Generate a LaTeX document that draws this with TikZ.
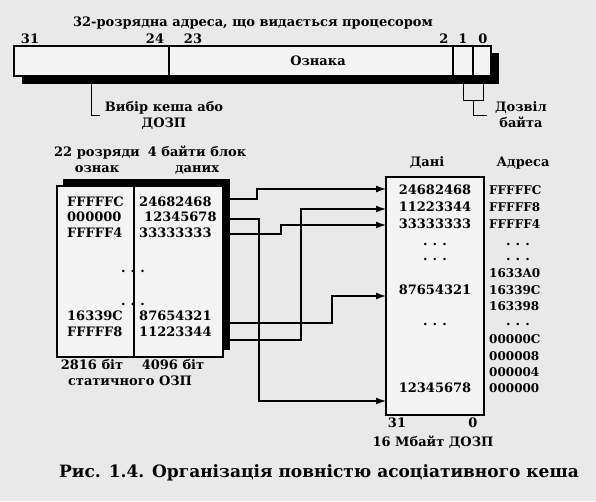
\documentclass[tikz,border=0pt]{standalone}
\usepackage{fontspec}
\setmainfont{DejaVu Serif}
\usetikzlibrary{arrows.meta}
\definecolor{paper}{RGB}{233,233,233}
\definecolor{sheet}{RGB}{244,244,244}
\newcommand\spacedots{.\hspace{5pt}.\hspace{5pt}.}
\begin{document}
\begin{tikzpicture}[x=1pt,y=-1pt,
   lbl/.style={font=\bfseries\fontsize{13}{16}\selectfont, inner sep=0pt},
   addr/.style={font=\bfseries\fontsize{12}{16}\selectfont, inner sep=0pt, anchor=west},
   figcap/.style={font=\bfseries\fontsize{17}{20}\selectfont, inner sep=0pt},
   frame/.style={draw, line width=1.3pt, fill=sheet},
   wire/.style={line width=1.1pt, -{Latex[length=10pt,width=7pt]}},
   lead/.style={line width=1pt}]
   \fill[paper] (0,0) rectangle (596,501);

   % address from the processor
   \node[lbl] (title) at (253,23) {32-розрядна адреса, що видається процесором};
   \fill (22,53) rectangle (499,84);
   \draw[frame] (14,46) rectangle (491,76);
   \draw[line width=1.3pt] (169,46) -- (169,76) (453,46) -- (453,76) (473,46) -- (473,76);
   \foreach \b/\x in {31/30, 24/155, 23/193, 2/444, 1/463, 0/483}
      \node[lbl] (bit\b) at (\x,39) {\b};
   \node[lbl] (tag) at (318,61) {Ознака};

   \node[lbl, align=center] (sel) at (164,115) {Вибір кеша або\\ДОЗП};
   \coordinate (selTop) at (91,84);
   \draw[lead] (selTop) |- ([xshift=-5pt]sel.west);

   \node[lbl, align=center] (byte) at (521,115) {Дозвіл\\байта};
   \coordinate (b1) at (463,84);
   \coordinate (b0) at (483,84);
   \draw[lead] (b1) -- (463,100) -- (483,100) -- (b0);
   \draw[lead] (473,100) |- ([xshift=-8pt]byte.west);

   % cache
   \node[lbl, align=center] (tagHead) at (97,160) {22 розряди\\ознак};
   \node[lbl, align=center] (dataHead) at (197,160) {4 байти блок\\даних};
   \fill (63,179) rectangle (230,350);
   \draw[frame] (57,186) rectangle (223,357);
   \draw[line width=1.3pt] (134,186) -- (134,357);
   \foreach \t/\d/\y in {FFFFFC/24682468/202, FFFFF4/33333333/233, 16339C/87654321/316, FFFFF8/11223344/332}{
      \node[lbl, anchor=west] (ct\y) at (67,\y) {\t};
      \node[lbl, anchor=west] (cd\y) at (139,\y) {\d};
   }
   \node[lbl, anchor=west] (ct217) at (67,217) {000000};
   \node[lbl, anchor=west] (cd217) at (144,217) {12345678};
   \node[lbl, anchor=base] (cdots1) at (133,272) {\spacedots};
   \node[lbl, anchor=base] (cdots2) at (133,305) {\spacedots};
   \node[lbl] (tagBits) at (92,365) {2816 біт};
   \node[lbl] (dataBits) at (173,365) {4096 біт};
   \node[lbl] (sram) at (130,381) {статичного ОЗП};

   % main memory
   \node[lbl] (dHead) at (427,163) {Дані};
   \node[lbl] (aHead) at (523,163) {Адреса};
   \draw[frame] (386,177) rectangle (484,415);
   \foreach \d/\y in {24682468/190, 11223344/207, 33333333/224, 87654321/290, 12345678/388}
      \node[lbl] (m\y) at (435,\y) {\d};
   \foreach \y in {245, 260, 325}
      \node[lbl, anchor=base] (mdots\y) at (435,\y) {\spacedots};
   \foreach \a/\y in {FFFFFC/190, FFFFF8/207, FFFFF4/224, 1633A0/273, 16339C/290, 163398/306, 00000C/339, 000008/356, 000004/372, 000000/388}
      \node[addr] (a\y) at (489,\y) {\a};
   \foreach \y in {245, 260, 325}
      \node[lbl, anchor=base] (adots\y) at (518,\y) {\spacedots};
   \node[lbl] (msb) at (397,423) {31};
   \node[lbl] (lsb) at (473,423) {0};
   \node[lbl] (dram) at (433,442) {16 Мбайт ДОЗП};

   % lines from the cache to memory
   \coordinate (s1) at (230,199);
   \coordinate (s2) at (230,219);
   \coordinate (s3) at (230,234);
   \coordinate (s4) at (230,323);
   \coordinate (s5) at (230,340);
   \coordinate (e1) at (386,189);
   \coordinate (e2) at (386,401);
   \coordinate (e3) at (386,225);
   \coordinate (e4) at (386,296);
   \coordinate (e5) at (386,209);
   \draw[wire] (s1) -- (257,199) |- (e1);
   \draw[wire] (s2) -- (259,219) |- (e2);
   \draw[wire] (s3) -- (281,234) |- (e3);
   \draw[wire] (s4) -- (332,323) |- (e4);
   \draw[wire] (s5) -- (301,340) |- (e5);

   \node[figcap] (caption) at (319,473) {Рис. 1.4. Організація повністю асоціативного кеша};
\end{tikzpicture}
\end{document}
